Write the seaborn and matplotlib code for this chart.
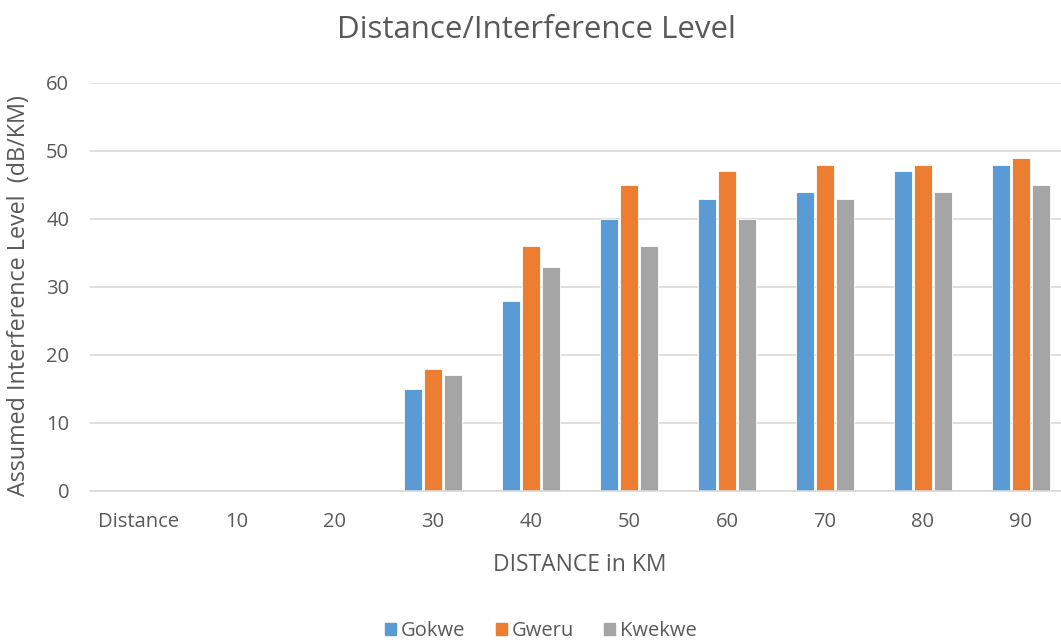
import numpy as np
import pandas as pd
import matplotlib
matplotlib.use("Agg")
import matplotlib.pyplot as plt
import seaborn as sns

categories = ["Distance", "10", "20", "30", "40", "50", "60", "70", "80", "90"]
gokwe = [np.nan, np.nan, np.nan, 15, 28, 40, 43, 44, 47, 48]
gweru = [np.nan, np.nan, np.nan, 18, 36, 45, 47, 48, 48, 49]
kwekwe = [np.nan, np.nan, np.nan, 17, 33, 36, 40, 43, 44, 45]
series_names = ["Gokwe", "Gweru", "Kwekwe"]
colors = ["#5B9BD5", "#ED7D31", "#A5A5A5"]

rows = []
for name, vals in zip(series_names, [gokwe, gweru, kwekwe]):
    for c, v in zip(categories, vals):
        rows.append({"cat": c, "series": name, "value": v})
df = pd.DataFrame(rows)

sns.set_theme(style="white")
plt.rcParams['font.family'] = ['Open Sans', 'DejaVu Sans']

fig = plt.figure(figsize=(10.61, 6.43), dpi=100)
ax = fig.add_axes([90/1061, 1-491/643, 980/1061, (491-83)/643])

sns.barplot(data=df, x="cat", y="value", hue="series", order=categories,
            hue_order=series_names, palette=colors, saturation=1, width=0.62, gap=0.1,
            ax=ax, legend=True, edgecolor="white", linewidth=0.6)

ax.set_ylim(0, 60)
ax.set_yticks(range(0, 61, 10))
ax.set_xlim(-0.5, 9.5)
ax.yaxis.grid(True, color="#D9D9D9", linewidth=1.2)
ax.set_axisbelow(True)
for s in ["top", "right", "left"]:
    ax.spines[s].set_visible(False)
ax.spines["bottom"].set_color("#D9D9D9")
ax.spines["bottom"].set_linewidth(1.2)
ax.tick_params(axis="x", length=0, labelsize=14.5, colors="#595959", pad=15)
ax.tick_params(axis="y", length=0, labelsize=14.5, colors="#595959", pad=15)

ax.set_xlabel("DISTANCE in KM", fontsize=16.5, color="#595959", labelpad=15)
ax.set_ylabel("Assumed Interference Level  (dB/KM)", fontsize=16.8, color="#595959")
ax.yaxis.set_label_coords(-59/980, 0.478)

fig.text(536/1061, 1-30/643, "Distance/Interference Level", fontsize=22.5, color="#595959",
         ha="center", va="center")

ax.legend_.remove()
handles = [plt.Rectangle((0, 0), 1, 1, color=c) for c in colors]
fig.legend(handles, series_names, loc="center", bbox_to_anchor=(541/1061, 1-631/643),
           ncol=3, frameon=False, fontsize=14.5, handlelength=0.55, handleheight=0.55,
           handletextpad=0.25, columnspacing=1.5, labelcolor="#595959")

fig.savefig("out.png", dpi=100)
